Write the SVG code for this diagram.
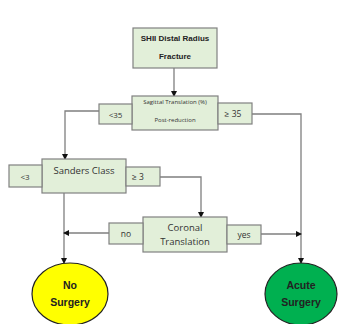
<svg xmlns="http://www.w3.org/2000/svg" width="339" height="324" viewBox="0 0 339 324">
<style>
.box{fill:#e2efd9;stroke:#808080;stroke-width:1.2}
.t{font-family:"Open Sans","Liberation Sans",sans-serif;fill:#333;text-anchor:middle;dominant-baseline:central}
.b{font-family:"Liberation Sans",Arial,sans-serif;font-weight:bold;fill:#222;text-anchor:middle;dominant-baseline:central}
.c{fill:none;stroke:#7f7f7f;stroke-width:1.3}
</style>
<defs>
<marker id="ah" markerWidth="6" markerHeight="6" refX="5" refY="3" orient="auto" markerUnits="userSpaceOnUse">
<path d="M0,0 L6,3 L0,6 Z" fill="#111"/>
</marker>
</defs>
<rect width="339" height="324" fill="#fff"/>
<g id="connectors">
<path class="c" d="M174,68 V96" marker-end="url(#ah)"/>
<path class="c" d="M99,111 H65 V159" marker-end="url(#ah)"/>
<path class="c" d="M252,114 H301 V263" marker-end="url(#ah)"/>
<path class="c" d="M160,177 H201 V217" marker-end="url(#ah)"/>
<path class="c" d="M64,193 V263" marker-end="url(#ah)"/>
<path class="c" d="M109,233 H64" marker-end="url(#ah)"/>
<path class="c" d="M261,234 H301" marker-end="url(#ah)"/>
</g>
<g id="start">
<rect class="box" x="133" y="28" width="84" height="40"/>
<text class="b" x="175" y="38" font-size="8">SHII Distal  Radius</text>
<text class="b" x="175" y="56" font-size="8">Fracture</text>
</g>
<g id="sagittal">
<rect class="box" x="132" y="96" width="86" height="34"/>
<text class="t" x="175" y="102" font-size="6">Sagittal Translation (%)</text>
<text class="t" x="175" y="120" font-size="6">Post-reduction</text>
</g>
<g id="lt35">
<rect class="box" x="99" y="104" width="33" height="20"/>
<text class="t" x="115.5" y="114" font-size="8">&lt;35</text>
</g>
<g id="ge35">
<rect class="box" x="218" y="103" width="34" height="21"/>
<text class="t" x="233" y="113.5" font-size="8.5">≥ 35</text>
</g>
<g id="sanders">
<rect class="box" x="42" y="159" width="84" height="34"/>
<text class="t" x="84" y="170" font-size="9.5">Sanders Class</text>
</g>
<g id="lt3">
<rect class="box" x="9" y="165" width="33" height="22"/>
<text class="t" x="25" y="176" font-size="8">&lt;3</text>
</g>
<g id="ge3">
<rect class="box" x="126" y="167" width="34" height="19"/>
<text class="t" x="138" y="176.5" font-size="8.5">≥ 3</text>
</g>
<g id="coronal">
<rect class="box" x="143" y="217" width="84" height="35"/>
<text class="t" x="185" y="227" font-size="9.5">Coronal</text>
<text class="t" x="185" y="241" font-size="9.5">Translation</text>
</g>
<g id="no">
<rect class="box" x="109" y="223" width="34" height="21"/>
<text class="t" x="126" y="233.5" font-size="8.5">no</text>
</g>
<g id="yes">
<rect class="box" x="227" y="225" width="34" height="19"/>
<text class="t" x="244" y="234.5" font-size="8.5">yes</text>
</g>
<g id="noSurgery">
<ellipse cx="70" cy="294" rx="38" ry="31" fill="#ffff00" stroke="#222" stroke-width="1.2"/>
<text class="b" x="70" y="285" font-size="10.5">No</text>
<text class="b" x="70" y="302" font-size="10.5">Surgery</text>
</g>
<g id="acuteSurgery">
<ellipse cx="301" cy="294" rx="36" ry="31" fill="#00b050" stroke="#222" stroke-width="1.2"/>
<text class="b" x="301" y="285" font-size="10.5">Acute</text>
<text class="b" x="301" y="302" font-size="10.5">Surgery</text>
</g>
</svg>
